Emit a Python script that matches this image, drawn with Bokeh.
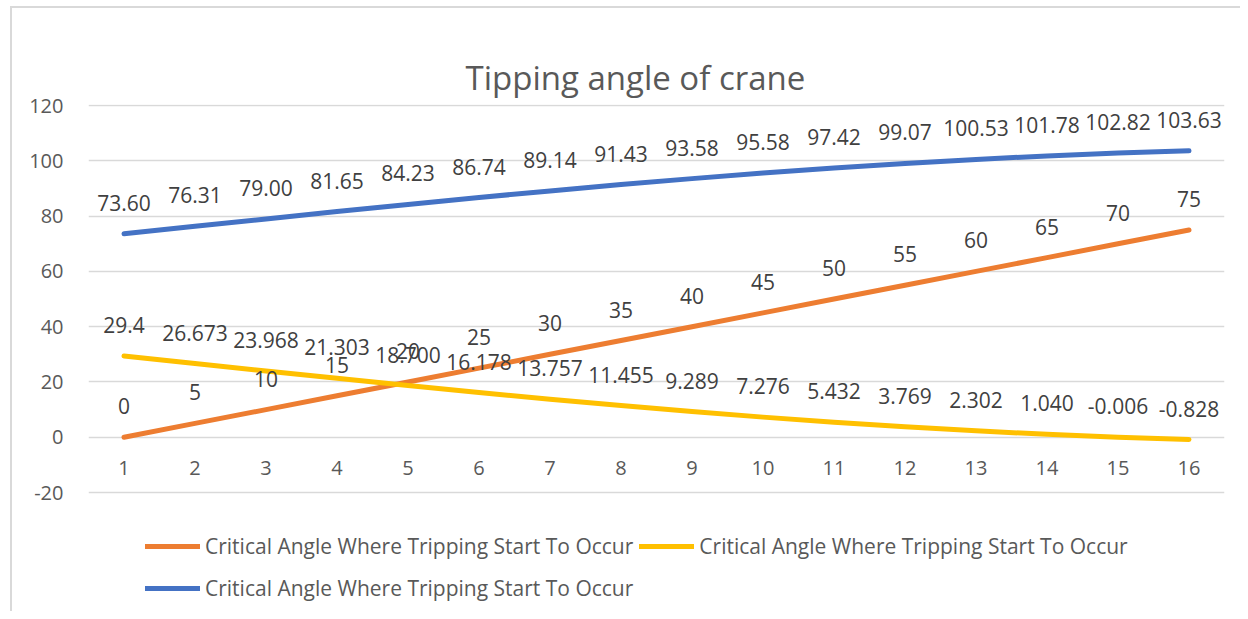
from bokeh.plotting import figure
from bokeh.models import (Legend, LegendItem, FixedTicker, LinearAxis, Range1d,
                          ColumnDataSource, PrintfTickFormatter)
from bokeh.core.properties import value
from bokeh.embed import file_html
from bokeh.resources import INLINE

categories = list(range(1, 17))
orange_vals = [0, 5, 10, 15, 20, 25, 30, 35, 40, 45, 50, 55, 60, 65, 70, 75]
orange_labels = ["0", "5", "10", "15", "20", "25", "30", "35", "40", "45", "50",
                 "55", "60", "65", "70", "75"]
yellow_vals = [29.4, 26.673, 23.968, 21.303, 18.700, 16.178, 13.757, 11.455,
               9.289, 7.276, 5.432, 3.769, 2.302, 1.040, -0.006, -0.828]
yellow_labels = ["29.4", "26.673", "23.968", "21.303", "18.700", "16.178",
                 "13.757", "11.455", "9.289", "7.276", "5.432", "3.769",
                 "2.302", "1.040", "-0.006", "-0.828"]
blue_vals = [73.60, 76.31, 79.00, 81.65, 84.23, 86.74, 89.14, 91.43, 93.58,
             95.58, 97.42, 99.07, 100.53, 101.78, 102.82, 103.63]
blue_labels = ["73.60", "76.31", "79.00", "81.65", "84.23", "86.74", "89.14",
               "91.43", "93.58", "95.58", "97.42", "99.07", "100.53", "101.78",
               "102.82", "103.63"]
y_ticks = [-20, 0, 20, 40, 60, 80, 100, 120]
series_name = "Critical Angle Where Tripping Start To Occur"
title_text = "Tipping angle of crane"

FONT = "Open Sans"

# frame extends below the -20 gridline so that the legend sits inside it
p = figure(width=1240, height=611, x_range=Range1d(0.5, 16.5),
           y_range=Range1d(-63.06, 120.4), output_backend="svg",
           toolbar_location=None, x_axis_location=None, y_axis_location=None,
           min_border_left=88, min_border_right=16, min_border_top=104,
           min_border_bottom=0)
# thin grey chart-area border (left and top) drawn behind a transparent border fill
p.styles = {
    "background-image": "linear-gradient(#d9d9d9, #d9d9d9), linear-gradient(#d9d9d9, #d9d9d9)",
    "background-size": "100% 2px, 2px 100%",
    "background-position": "10px 6px, 10px 6px",
    "background-repeat": "no-repeat",
}
p.outline_line_color = None
p.background_fill_color = "white"
p.border_fill_alpha = 0

p.title.text = title_text
p.title.text_font = FONT
p.title.text_font_size = "33px"
p.title.text_font_style = "normal"
p.title.text_color = "#595959"
p.title.align = "left"
p.title.offset = 377

yaxis = LinearAxis(ticker=FixedTicker(ticks=y_ticks),
                   formatter=PrintfTickFormatter(format="%d"))
yaxis.axis_line_color = None
yaxis.major_tick_line_color = None
yaxis.major_tick_out = 0
yaxis.major_tick_in = 0
yaxis.minor_tick_line_color = None
yaxis.major_label_text_font = FONT
yaxis.major_label_text_font_size = "20px"
yaxis.major_label_text_color = "#595959"
yaxis.major_label_standoff = 25
p.add_layout(yaxis, "left")

xaxis = LinearAxis(ticker=FixedTicker(ticks=categories), fixed_location=0)
xaxis.axis_line_color = None
xaxis.major_tick_line_color = None
xaxis.major_tick_out = 0
xaxis.major_tick_in = 0
xaxis.minor_tick_line_color = None
xaxis.major_label_text_font = FONT
xaxis.major_label_text_font_size = "20px"
xaxis.major_label_text_color = "#595959"
xaxis.major_label_standoff = 24
p.add_layout(xaxis, "below")

p.ygrid.ticker = FixedTicker(ticks=y_ticks)
p.ygrid.grid_line_color = "#d9d9d9"
p.ygrid.grid_line_width = 1.5
p.xgrid.grid_line_color = None

colors = {"orange": "#ED7D31", "yellow": "#FFC000", "blue": "#4472C4"}
series = [("orange", orange_vals, orange_labels),
          ("yellow", yellow_vals, yellow_labels),
          ("blue", blue_vals, blue_labels)]

renderers = {}
for name, vals, _ in series:
    src = ColumnDataSource(dict(x=categories, y=vals))
    renderers[name] = p.line("x", "y", source=src, line_color=colors[name],
                             line_width=5, line_cap="round",
                             line_join="round")

for name, vals, labs in series:
    src = ColumnDataSource(dict(x=categories, y=vals, t=labs))
    p.text("x", "y", text="t", source=src, y_offset=-31,
           text_align="center", text_baseline="middle",
           text_font=value(FONT), text_font_size="21px",
           text_color="#404040")

legend = Legend(items=[
    LegendItem(label=series_name, renderers=[renderers["orange"]]),
    LegendItem(label=series_name, renderers=[renderers["yellow"]]),
    LegendItem(label=series_name, renderers=[renderers["blue"]]),
], orientation="horizontal", ncols=2, location=(57, 5))
legend.border_line_color = None
legend.background_fill_alpha = 0
legend.label_text_font = FONT
legend.label_text_font_size = "21px"
legend.label_text_color = "#595959"
legend.glyph_width = 55
legend.glyph_height = 36
legend.label_height = 36
legend.label_standoff = 5
legend.spacing = 6
legend.padding = 0
legend.margin = 0
p.add_layout(legend, "center")

open("out.html", "w").write(file_html(p, INLINE))
